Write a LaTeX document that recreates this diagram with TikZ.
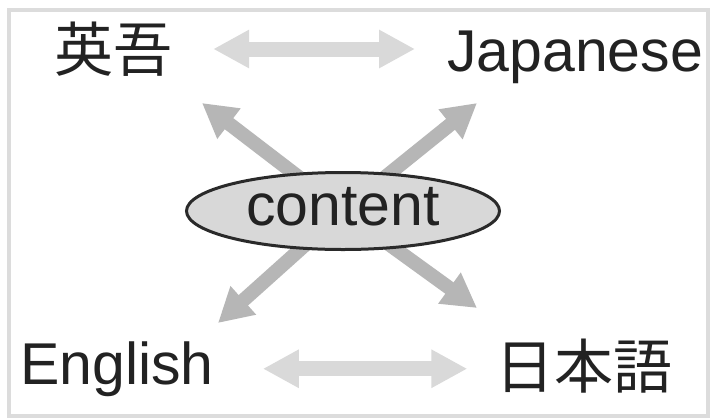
\documentclass[tikz,border=0pt]{standalone}
\usepackage{fontspec}
\setmainfont{Liberation Sans}
\newfontfamily\cjk{Noto Sans CJK JP}
\usetikzlibrary{arrows.meta,shapes.geometric,backgrounds}
\definecolor{framegray}{HTML}{DCDCDC}
\definecolor{lightarrow}{HTML}{D9D9D9}
\definecolor{darkarrow}{HTML}{B6B6B6}
\definecolor{ellfill}{HTML}{D8D8D8}
\definecolor{ellline}{HTML}{2A2A2A}
\definecolor{txt}{HTML}{222222}
\tikzset{
  lbl/.style={inner sep=0pt, text=txt, font=\fontsize{59}{66}\selectfont},
  cjklbl/.style={inner sep=0pt, text=txt, font=\cjk\fontsize{59}{66}\selectfont},
  harrow/.style={draw=lightarrow, line width=15pt,
     {Triangle[width=36pt,length=36pt]}-{Triangle[width=36pt,length=36pt]}},
  darrow/.style={draw=darkarrow, line width=14pt,
     -{Triangle[width=36pt,length=34pt]}},
  ell/.style={ellipse, draw=ellline, fill=ellfill, line width=3pt,
     minimum width=313pt, minimum height=77pt, inner sep=0pt,
     text height=28pt, text depth=0pt, text=txt,
     font=\fontsize{59}{66}\selectfont}
}
\begin{document}
\begin{tikzpicture}[x=1pt,y=-1pt]
\useasboundingbox (0,0) rectangle (711,418);
\draw[framegray, line width=4pt] (9,10) rectangle (708,416);

\node[cjklbl] (ying) at (113,49) {英吾};
\node[lbl, anchor=base west] (jp) at (447,71) {Japanese};
\node[lbl, anchor=base west] (en) at (20,384) {English};
\node[cjklbl] (nihongo) at (584,366) {日本語};

\node[ell] (content) at (343,211) {content};

\coordinate (tnw) at (202,103);
\coordinate (tne) at (477,103);
\coordinate (tsw) at (218,323);
\coordinate (tse) at (477,308);

\begin{pgfonlayer}{background}
\fill[white] (0,0) rectangle (711,418);
\draw[darrow] (content.center) -- (tnw);
\draw[darrow] (content.center) -- (tne);
\draw[darrow] (content.center) -- (tsw);
\draw[darrow] (content.center) -- (tse);
\end{pgfonlayer}

\draw[harrow, shorten <=41pt, shorten >=32pt] (ying.east) -- (ying.east -| jp.west);
\draw[harrow, shorten <=49pt, shorten >=28pt] (en.east) -- (en.east -| nihongo.west);
\end{tikzpicture}
\end{document}
